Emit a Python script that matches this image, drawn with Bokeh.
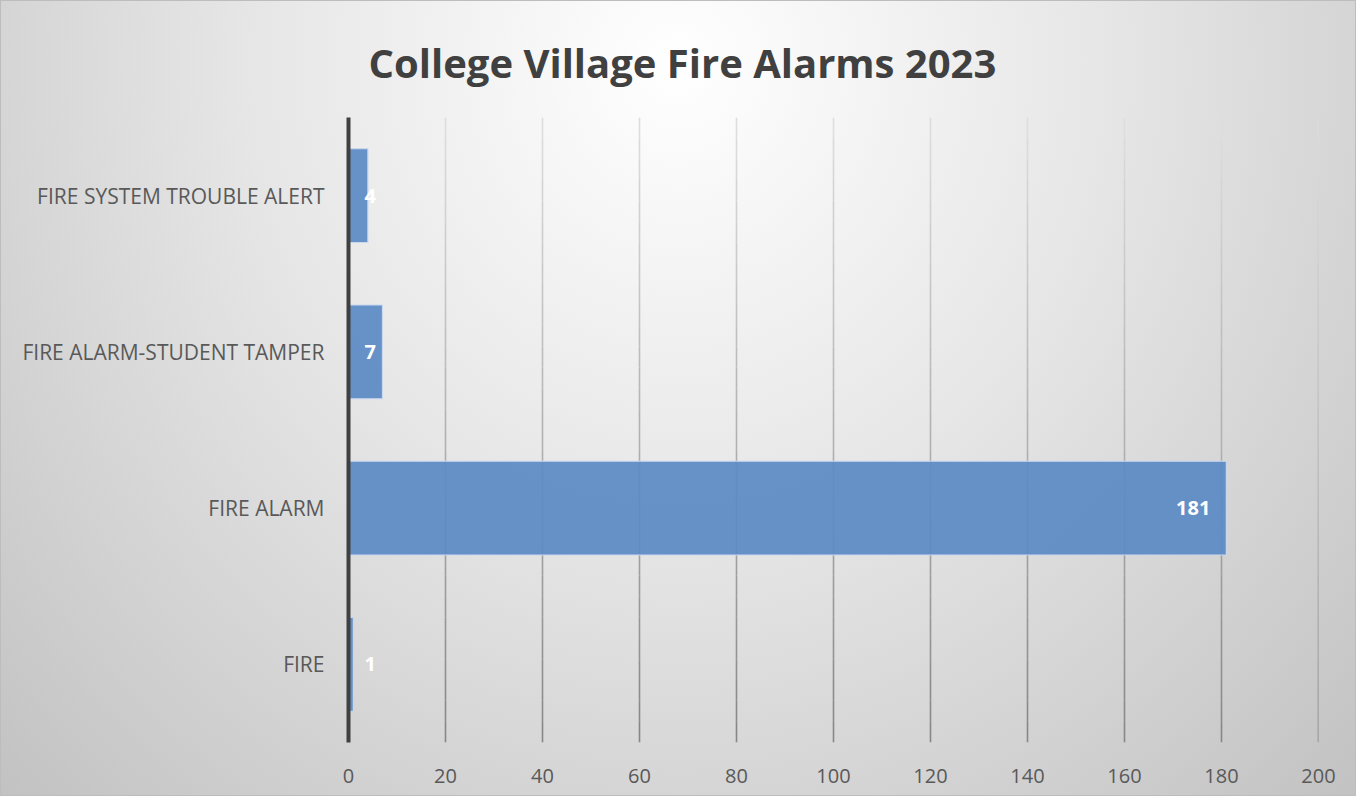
from bokeh.plotting import figure
from bokeh.models import FactorRange, Range1d, FixedTicker, ColumnDataSource, Label
from bokeh.embed import file_html
from bokeh.resources import INLINE

categories = ["FIRE", "FIRE ALARM", "FIRE ALARM-STUDENT TAMPER", "FIRE SYSTEM TROUBLE ALERT"]
counts = [1, 181, 7, 4]
x_ticks = [0, 20, 40, 60, 80, 100, 120, 140, 160, 180, 200]
title_text = "College Village Fire Alarms 2023"

FONT = "Open Sans"

p = figure(width=1356, height=796, y_range=FactorRange(factors=categories, range_padding=0),
           x_range=Range1d(0, 200), output_backend="svg", toolbar_location=None,
           min_border_left=347, min_border_right=39, min_border_top=116, min_border_bottom=55)
p.background_fill_alpha = 0
p.border_fill_alpha = 0
p.outline_line_color = None
p.styles = {"background-image": "radial-gradient(ellipse farthest-corner at 50% 8%, #ffffff 0%, #e6e6e6 45%, #c2c2c2 100%)",
            "border": "1px solid #bdbdbd", "box-sizing": "border-box"}

# gradient gridlines (light at top, darker at bottom)
n = 30
xs0, ys0, ys1, cols = [], [], [], []
def lerp(a, b, t):
    return int(round(a + (b - a) * t))
for t in x_ticks[1:]:
    for i in range(n):
        f0 = i / n
        f1 = (i + 1) / n
        xs0.append(t)
        ys0.append(4 - 4 * f0)
        ys1.append(4 - 4 * f1)
        g = lerp(0xde, 0x86, (f0 + f1) / 2)
        cols.append("#%02x%02x%02x" % (g, g, g))
p.segment(x0=xs0, y0=ys0, x1=xs0, y1=ys1, line_color=cols, line_width=1.6)

src = ColumnDataSource(dict(cat=categories, v=counts))
p.hbar(y="cat", right="v", left=0, height=0.6, source=src,
       fill_color="#5b8ac3", fill_alpha=0.92, line_color="#c9d8ee", line_width=1.2)

# data labels
for c, v in zip(categories, counts):
    yc = categories.index(c) + 0.5
    if v >= 20:
        lab = Label(x=v, y=yc, text=str(v), text_align="right",
                    text_baseline="middle", x_offset=-16, text_color="white",
                    text_font=FONT, text_font_style="bold", text_font_size="20px")
    else:
        lab = Label(x=0, y=yc, text=str(v), text_align="left",
                    text_baseline="middle", x_offset=16, text_color="white",
                    text_font=FONT, text_font_style="bold", text_font_size="20px")
    p.add_layout(lab)

# chart title
p.title.text = title_text
p.title.align = "left"
p.title.offset = 20
p.title.text_font = FONT
p.title.text_font_style = "bold"
p.title.text_font_size = "40px"
p.title.text_color = "#404040"
p.title.standoff = 55

p.xaxis.ticker = FixedTicker(ticks=x_ticks)
p.xaxis.axis_line_color = None
p.xaxis.major_tick_line_color = None
p.xaxis.minor_tick_line_color = None
p.xaxis.major_label_text_font = FONT
p.xaxis.major_label_text_font_size = "20px"
p.xaxis.major_label_text_color = "#595959"
p.xaxis.major_label_standoff = 20

p.yaxis.axis_line_color = "#404040"
p.yaxis.axis_line_width = 4
p.yaxis.major_tick_line_color = None
p.yaxis.minor_tick_line_color = None
p.yaxis.major_label_text_font = FONT
p.yaxis.major_label_text_font_size = "21px"
p.yaxis.major_label_text_color = "#595959"
p.yaxis.major_label_standoff = 18

p.xgrid.grid_line_color = None
p.ygrid.grid_line_color = None

open("out.html", "w").write(file_html(p, INLINE))
